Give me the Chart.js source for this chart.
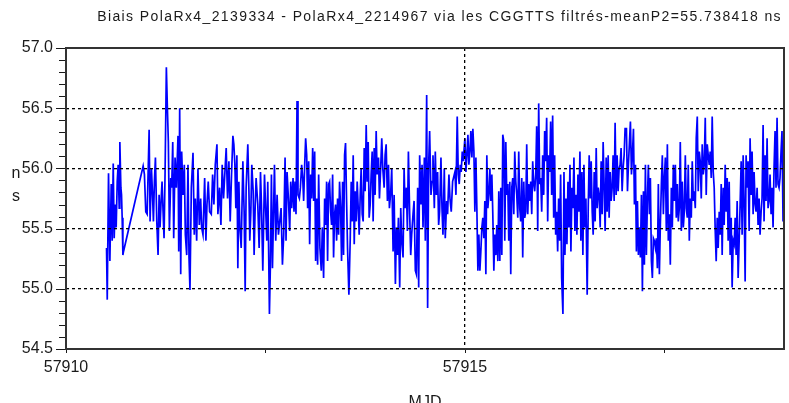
<!DOCTYPE html>
<html>
<head>
<meta charset="utf-8">
<title>Biais PolaRx4</title>
<script src="https://cdn.jsdelivr.net/npm/chart.js@4"></script>
<style>
  html, body { margin: 0; padding: 0; background: #fff; }
  #wrap { width: 789px; height: 403px; }
</style>
</head>
<body>
<div id="wrap"><canvas id="chart" width="789" height="403"></canvas></div>
<script>
/********************
 * Data: [MJD, bias in ns]
 ********************/
const titleText = "Biais PolaRx4_2139334 - PolaRx4_2214967 via les CGGTTS filtrés-meanP2=55.738418 ns";
const xAxisName = "MJD";
const yAxisName = ["n", "s"];

const xMin = 57910, xMax = 57919;
const yMin = 54.5, yMax = 57.0;
const xLabelled = [57910, 57915];
const yLabelled = [54.5, 55.0, 55.5, 56.0, 56.5, 57.0];
const xGridAt = [57915];
const yGridAt = [55.0, 55.5, 56.0, 56.5];

// MJD 57910.5 - 57912.7
const segA = [
  [57910.508,55.34],[57910.517,54.91],[57910.533,55.96],[57910.550,55.23],[57910.567,55.87],[57910.579,55.40],[57910.592,56.04],[57910.604,55.42],
  [57910.617,55.70],[57910.629,55.51],[57910.642,55.89],[57910.654,56.03],[57910.667,55.67],[57910.675,56.22],[57910.688,55.84],[57910.696,55.78],
  [57910.704,55.59],[57910.713,55.28],[57910.721,55.31],
  [57910.967,56.02],[57910.983,55.95],[57911.000,55.64],[57911.017,55.62],[57911.042,56.32],[57911.054,55.56],[57911.071,56.00],[57911.083,55.81],
  [57911.096,55.56],[57911.108,55.89],[57911.121,56.09],[57911.138,55.56],[57911.154,55.28],[57911.167,55.78],[57911.179,55.51],[57911.192,55.73],
  [57911.204,55.89],[57911.217,55.64],[57911.229,55.42],[57911.242,55.97],[57911.258,56.84],[57911.271,56.50],[57911.283,56.22],[57911.296,55.48],
  [57911.313,55.92],[57911.325,55.84],[57911.338,56.22],[57911.350,55.42],[57911.367,56.09],[57911.383,55.84],[57911.404,56.27],[57911.413,55.31],
  [57911.425,56.50],[57911.438,55.12],[57911.450,56.14],[57911.467,55.78],[57911.483,56.03],[57911.496,55.45],[57911.513,55.28],[57911.529,56.03],
  [57911.542,55.26],[57911.554,54.99],[57911.571,55.84],[57911.592,56.13],[57911.608,55.45],[57911.621,55.75],[57911.638,55.40],[57911.654,56.00],
  [57911.671,55.53],[57911.688,55.75],[57911.700,55.51],[57911.717,55.45],[57911.738,55.92],[57911.754,55.40],[57911.767,55.70],[57911.783,55.89],
  [57911.800,55.64],[57911.821,55.62],[57911.838,55.95],[57911.854,55.70],[57911.871,56.03],[57911.892,56.20],[57911.904,55.62],[57911.925,55.84],
  [57911.942,55.53],[57911.958,56.03],[57911.975,55.75],[57911.988,55.92],[57912.008,56.17],[57912.025,55.75],[57912.042,56.06],[57912.058,55.56],
  [57912.075,55.95],[57912.092,56.27],[57912.104,56.20],[57912.117,56.03],[57912.129,55.67],[57912.142,56.11],[57912.154,55.17],[57912.167,55.89],
  [57912.179,55.51],[57912.196,55.34],[57912.217,56.06],[57912.233,55.64],[57912.246,54.98],[57912.258,55.84],[57912.279,56.20],[57912.292,55.84],
  [57912.304,55.40],[57912.317,55.64],[57912.329,56.03],[57912.346,55.81],[57912.358,55.28],[57912.371,55.67],[57912.383,55.92],[57912.404,55.70],
  [57912.421,55.34],[57912.438,55.97],[57912.450,55.70],[57912.467,55.15],[57912.488,55.95],[57912.504,55.64],[57912.517,55.40],[57912.529,55.89],
  [57912.550,54.79],[57912.563,55.23],[57912.575,55.95],[57912.588,55.17],[57912.613,56.03],[57912.629,55.40],[57912.646,55.78],[57912.663,55.45]
];

// MJD 57912.7 - 57914.85
const segB = [
  [57912.679,55.56],[57912.696,55.67],[57912.713,55.20],[57912.729,55.45],[57912.746,56.09],[57912.758,55.40],[57912.771,55.97],[57912.788,55.75],
  [57912.804,55.48],[57912.817,55.89],[57912.829,55.67],[57912.846,55.92],[57912.858,55.64],[57912.871,55.89],[57912.883,55.62],[57912.896,56.56],
  [57912.908,55.78],[57912.925,55.75],[57912.938,55.84],[57912.954,56.03],[57912.967,55.92],[57912.979,55.73],[57912.992,56.03],[57913.004,56.25],
  [57913.017,56.11],[57913.029,55.67],[57913.042,56.06],[57913.054,55.37],[57913.067,55.95],[57913.079,55.75],[57913.092,56.17],[57913.104,55.73],
  [57913.117,56.14],[57913.129,55.23],[57913.142,55.75],[57913.154,55.20],[57913.167,55.95],[57913.183,55.34],[57913.200,55.15],[57913.213,55.51],
  [57913.229,55.09],[57913.242,55.75],[57913.254,55.53],[57913.267,55.89],[57913.279,55.23],[57913.292,55.87],[57913.304,55.89],[57913.317,55.64],
  [57913.329,55.53],[57913.342,55.95],[57913.354,55.26],[57913.367,55.62],[57913.379,55.70],[57913.392,55.40],[57913.404,55.75],[57913.417,55.45],
  [57913.429,55.89],[57913.442,55.67],[57913.454,55.23],[57913.467,55.89],[57913.479,55.28],[57913.492,56.11],[57913.504,56.21],[57913.517,55.73],
  [57913.529,55.34],[57913.546,54.95],[57913.563,55.42],[57913.575,55.89],[57913.588,55.56],[57913.600,56.11],[57913.613,55.37],[57913.625,55.81],
  [57913.638,55.56],[57913.650,55.89],[57913.663,55.67],[57913.675,55.45],[57913.688,55.78],[57913.700,56.00],[57913.713,55.62],[57913.725,55.56],
  [57913.738,56.17],[57913.750,55.81],[57913.763,56.36],[57913.775,55.89],[57913.788,56.22],[57913.800,55.59],[57913.813,55.70],[57913.825,55.95],
  [57913.838,56.14],[57913.850,55.56],[57913.863,56.17],[57913.875,55.78],[57913.888,56.31],[57913.900,55.95],[57913.917,56.09],[57913.929,55.75],
  [57913.946,56.03],[57913.958,56.25],[57913.971,56.00],[57913.988,55.84],[57914.000,56.11],[57914.013,56.20],[57914.029,55.73],[57914.042,56.03],
  [57914.054,55.67],[57914.071,55.81],[57914.083,56.00],[57914.100,55.31],[57914.113,55.78],[57914.129,55.04],[57914.142,55.51],[57914.154,55.28],
  [57914.167,55.59],[57914.183,55.01],[57914.196,55.67],[57914.208,55.40],[57914.225,55.26],[57914.238,56.00],[57914.250,55.67],[57914.267,55.84],
  [57914.279,55.48],[57914.292,56.14],[57914.308,55.62],[57914.321,55.28],[57914.333,55.45],[57914.350,55.62],[57914.363,55.73],[57914.379,55.15],
  [57914.392,55.12],[57914.408,55.84],[57914.421,55.01],[57914.433,56.11],[57914.450,55.70],[57914.463,56.03],[57914.475,55.51],[57914.492,56.09],
  [57914.504,55.40],[57914.521,56.61],[57914.533,54.84],[57914.546,56.03],[57914.558,56.31],[57914.575,55.78],[57914.588,55.89],[57914.600,56.11],
  [57914.617,55.67],[57914.629,56.14],[57914.642,55.78],[57914.658,55.97],[57914.671,55.53],[57914.683,55.64],[57914.700,56.09],[57914.713,55.67],
  [57914.725,55.45],[57914.742,56.00],[57914.754,55.42],[57914.771,55.73],[57914.783,55.62],[57914.800,55.95],[57914.813,55.75],[57914.829,55.64],
  [57914.846,55.89]
];

// MJD 57914.85 - 57917.0
const segC = [
  [57914.875,55.97],[57914.888,55.78],[57914.904,56.43],[57914.917,55.95],[57914.929,55.87],[57914.942,56.03],[57914.954,55.97],[57914.967,56.14],
  [57914.979,56.06],[57915.000,56.25],[57915.013,55.97],[57915.025,56.11],[57915.038,56.28],[57915.050,56.03],[57915.063,56.14],[57915.075,56.31],
  [57915.088,56.09],[57915.100,56.33],[57915.113,56.14],[57915.125,55.64],[57915.138,56.09],[57915.150,55.67],[57915.163,55.15],[57915.175,55.45],
  [57915.188,55.15],[57915.200,55.31],[57915.213,55.51],[57915.225,55.59],[57915.238,55.42],[57915.250,55.73],[57915.263,55.12],[57915.275,56.11],
  [57915.288,55.67],[57915.300,55.78],[57915.313,56.00],[57915.325,55.73],[57915.338,55.95],[57915.350,55.62],[57915.363,55.15],[57915.375,55.45],
  [57915.388,55.28],[57915.400,55.53],[57915.413,55.23],[57915.425,55.81],[57915.438,55.23],[57915.450,55.84],[57915.463,55.28],[57915.475,56.28],
  [57915.488,56.22],[57915.500,55.40],[57915.513,56.22],[57915.525,55.78],[57915.538,55.87],[57915.550,55.40],[57915.563,55.89],[57915.575,55.12],
  [57915.588,55.84],[57915.600,55.92],[57915.613,55.62],[57915.625,56.14],[57915.638,55.89],[57915.650,55.78],[57915.663,55.59],[57915.675,56.14],
  [57915.688,55.67],[57915.700,55.56],[57915.713,55.92],[57915.725,55.26],[57915.738,55.89],[57915.750,55.59],[57915.763,55.64],[57915.775,56.20],
  [57915.788,55.62],[57915.800,55.87],[57915.813,55.73],[57915.825,55.89],[57915.838,55.62],[57915.850,56.06],[57915.863,55.87],[57915.875,55.81],
  [57915.888,55.95],[57915.900,56.35],[57915.913,55.48],[57915.925,56.54],[57915.938,55.87],[57915.950,55.92],[57915.963,55.64],[57915.975,56.11],
  [57915.988,55.78],[57916.000,56.31],[57916.013,56.06],[57916.025,56.42],[57916.038,55.56],[57916.050,56.11],[57916.063,55.97],[57916.075,56.39],
  [57916.088,55.78],[57916.100,56.44],[57916.113,55.59],[57916.125,56.11],[57916.138,55.45],[57916.150,55.64],[57916.163,55.31],[57916.175,55.75],
  [57916.188,55.40],[57916.200,55.95],[57916.213,55.09],[57916.229,54.79],[57916.242,55.97],[57916.254,55.28],[57916.267,55.75],[57916.279,55.37],
  [57916.292,55.89],[57916.304,55.51],[57916.317,56.03],[57916.329,55.31],[57916.342,55.84],[57916.354,55.67],[57916.367,56.09],[57916.379,55.48],
  [57916.392,55.78],[57916.404,55.45],[57916.417,55.95],[57916.429,55.64],[57916.442,56.14],[57916.454,55.40],[57916.467,55.97],[57916.479,55.28],
  [57916.492,56.03],[57916.504,55.51],[57916.517,55.75],[57916.533,54.95],[57916.546,55.67],[57916.558,56.11],[57916.571,55.75],[57916.583,56.06],
  [57916.596,55.64],[57916.608,55.45],[57916.621,55.97],[57916.633,55.56],[57916.646,56.17],[57916.658,55.67],[57916.671,55.84],[57916.683,55.78],
  [57916.696,55.51],[57916.708,56.06],[57916.721,55.62],[57916.733,56.22],[57916.746,55.84],[57916.758,55.48],[57916.771,56.09],[57916.783,55.64],
  [57916.796,56.11],[57916.808,55.59],[57916.821,55.97],[57916.833,55.73],[57916.846,55.84],[57916.858,56.11],[57916.871,55.73],[57916.883,56.38],
  [57916.896,55.78],[57916.908,56.11],[57916.921,55.81],[57916.933,56.00],[57916.946,56.03],[57916.958,56.17],[57916.971,55.81],[57916.983,56.00],
  [57916.996,56.11],[57917.008,56.33]
];

// MJD 57917.0 - 57919.0
const segD = [
  [57917.025,56.33],[57917.038,55.81],[57917.050,56.03],[57917.063,56.22],[57917.075,56.39],[57917.088,55.95],[57917.100,56.11],[57917.113,56.33],
  [57917.125,55.70],[57917.138,56.03],[57917.150,55.31],[57917.163,55.73],[57917.175,55.28],[57917.188,55.51],[57917.200,55.26],[57917.213,55.78],
  [57917.225,54.98],[57917.238,55.81],[57917.250,55.20],[57917.263,56.03],[57917.275,55.28],[57917.288,55.75],[57917.300,56.03],[57917.313,55.62],
  [57917.325,55.92],[57917.338,55.23],[57917.350,55.09],[57917.363,55.42],[57917.375,55.40],[57917.388,55.34],[57917.400,55.42],[57917.413,55.17],
  [57917.425,55.87],[57917.438,55.12],[57917.450,55.53],[57917.463,55.87],[57917.475,56.11],[57917.488,55.62],[57917.500,55.92],[57917.513,56.09],
  [57917.525,55.48],[57917.538,56.20],[57917.550,55.40],[57917.563,55.62],[57917.575,55.20],[57917.588,55.84],[57917.600,55.51],[57917.613,56.03],
  [57917.625,55.73],[57917.638,56.03],[57917.650,55.59],[57917.663,55.87],[57917.675,55.56],[57917.688,55.67],[57917.700,56.22],[57917.713,55.48],
  [57917.725,55.89],[57917.738,55.51],[57917.750,55.64],[57917.763,56.11],[57917.775,55.67],[57917.788,55.59],[57917.800,56.03],[57917.813,55.40],
  [57917.825,55.75],[57917.838,55.59],[57917.850,56.06],[57917.863,55.73],[57917.875,55.81],[57917.888,55.67],[57917.900,56.25],[57917.913,56.43],
  [57917.925,55.81],[57917.938,56.14],[57917.950,56.06],[57917.963,55.75],[57917.975,56.20],[57917.988,55.95],[57918.000,56.03],[57918.013,56.42],
  [57918.025,55.78],[57918.038,56.20],[57918.050,56.11],[57918.063,56.03],[57918.075,56.14],[57918.088,55.92],[57918.100,56.43],[57918.113,55.97],
  [57918.125,55.84],[57918.138,55.48],[57918.150,55.23],[57918.163,55.59],[57918.175,55.34],[57918.188,55.64],[57918.200,55.45],[57918.213,55.87],
  [57918.225,55.28],[57918.238,55.84],[57918.250,55.53],[57918.263,56.03],[57918.275,55.64],[57918.288,55.92],[57918.300,55.40],[57918.313,55.89],
  [57918.325,55.28],[57918.338,55.59],[57918.350,55.01],[57918.363,55.40],[57918.375,55.37],[57918.388,55.59],[57918.400,55.28],[57918.413,55.73],
  [57918.425,55.09],[57918.438,55.40],[57918.450,55.70],[57918.463,56.06],[57918.475,55.45],[57918.488,56.11],[57918.500,55.73],[57918.513,55.06],
  [57918.525,56.11],[57918.538,55.84],[57918.550,56.06],[57918.563,55.48],[57918.575,56.25],[57918.588,55.78],[57918.600,56.14],[57918.613,55.62],
  [57918.625,55.97],[57918.638,55.70],[57918.650,55.64],[57918.663,55.84],[57918.675,55.53],[57918.688,55.75],[57918.700,55.45],[57918.713,55.64],
  [57918.725,55.75],[57918.738,56.36],[57918.750,55.56],[57918.763,56.11],[57918.775,55.73],[57918.788,56.25],[57918.800,55.67],[57918.813,55.73],
  [57918.825,55.95],[57918.838,55.62],[57918.850,55.84],[57918.863,55.51],[57918.875,56.00],[57918.888,56.31],[57918.900,55.84],[57918.913,56.42],
  [57918.925,55.87],[57918.938,55.84],[57918.950,55.92],[57918.963,56.14],[57918.975,56.31],[57918.988,55.56],[57919.000,56.11]
];

/********************
 * Helpers
 ********************/
const FONT = '"Liberation Sans", Arial, Helvetica, sans-serif';
const INK = "#1a1a1a";

function near(list, v){
  return list.find(l => Math.abs(l - v) < 1e-6);
}

// frame, tick marks, title and axis names, drawn last like the original plot
const frameAndTicks = {
  id: "frameAndTicks",
  afterDraw(chart){
    const { ctx, chartArea: a, scales: { x, y } } = chart;
    ctx.save();
    ctx.strokeStyle = INK;
    ctx.lineWidth = 1;
    ctx.beginPath();
    y.ticks.forEach(t => {
      const py = Math.round(y.getPixelForValue(t.value)) + 0.5;
      const len = near(yLabelled, t.value) !== undefined ? 10 : 7;
      ctx.moveTo(a.left - len, py);
      ctx.lineTo(a.left, py);
    });
    x.ticks.forEach(t => {
      if(t.value >= xMax) return;
      const px = Math.round(x.getPixelForValue(t.value)) + 0.5;
      ctx.moveTo(px, a.bottom);
      ctx.lineTo(px, a.bottom + 4);
    });
    ctx.stroke();

    ctx.lineWidth = 2;
    ctx.strokeStyle = "#333";
    ctx.strokeRect(a.left, a.top, a.right - a.left, a.bottom - a.top);

    ctx.fillStyle = INK;

    // title, spaced out like the original bitmap font
    ctx.font = "14px " + FONT;
    ctx.textAlign = "right";
    ctx.textBaseline = "middle";
    if("letterSpacing" in ctx) ctx.letterSpacing = "1.4px";
    ctx.fillText(titleText, a.right - 2, 17);
    if("letterSpacing" in ctx) ctx.letterSpacing = "0px";

    ctx.font = "16px " + FONT;
    ctx.textAlign = "center";
    const mid = (a.top + a.bottom) / 2;
    ctx.fillText(yAxisName[0], 16, mid - 25);
    ctx.fillText(yAxisName[1], 16, mid - 2);
    ctx.textBaseline = "top";
    ctx.fillText(xAxisName, (a.left + a.right) / 2, 395);
    ctx.restore();
  }
};

/********************
 * Chart
 ********************/
const points = [...segA, ...segB, ...segC, ...segD].map(p => ({ x: p[0], y: p[1] }));

new Chart(document.getElementById("chart"), {
  type: "line",
  data: {
    datasets: [{
      label: "Biais",
      data: points,
      borderColor: "#0000ff",
      borderWidth: 1.7,
      pointRadius: 0,
      tension: 0,
      fill: false
    }]
  },
  options: {
    responsive: false,
    animation: false,
    events: [],
    layout: { padding: { top: 48, right: 3, bottom: 0, left: 0 } },
    plugins: {
      legend: { display: false },
      tooltip: { enabled: false },
      title: { display: false }
    },
    scales: {
      x: {
        type: "linear",
        min: xMin,
        max: xMax,
        afterFit(scale){ scale.height = 54; },
        border: { display: false, dash: [3, 3] },
        grid: {
          z: 1,
          lineWidth: 1.3,
          color: c => (c.tick && near(xGridAt, c.tick.value) !== undefined) ? "#000" : "transparent",
          drawTicks: true,
          tickLength: 4,
          tickColor: "transparent"
        },
        ticks: {
          stepSize: 2.5,
          autoSkip: false,
          maxRotation: 0,
          minRotation: 0,
          padding: 5,
          color: INK,
          font: { family: FONT, size: 16 },
          callback: v => near(xLabelled, v) !== undefined ? String(v) : ""
        }
      },
      y: {
        type: "linear",
        min: yMin,
        max: yMax,
        afterFit(scale){ scale.width = 66; },
        border: { display: false, dash: [3, 3] },
        grid: {
          z: 1,
          lineWidth: 1.3,
          color: c => (c.tick && near(yGridAt, c.tick.value) !== undefined) ? "#000" : "transparent",
          drawTicks: true,
          tickLength: 10,
          tickColor: "transparent"
        },
        ticks: {
          stepSize: 0.1,
          autoSkip: false,
          padding: 3,
          color: INK,
          font: { family: FONT, size: 16 },
          callback: v => {
            const l = near(yLabelled, v);
            return l !== undefined ? l.toFixed(1) : "";
          }
        }
      }
    }
  },
  plugins: [frameAndTicks]
});
</script>
</body>
</html>
